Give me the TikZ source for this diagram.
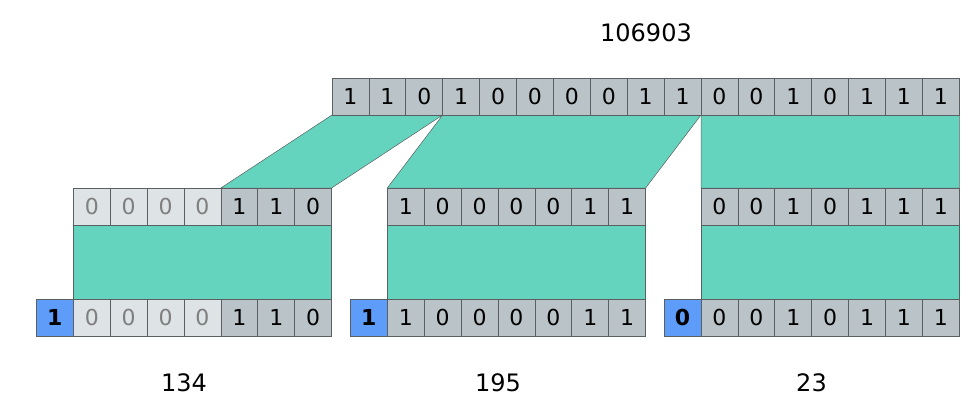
\documentclass[tikz,border=0pt]{standalone}
\usepackage{fontspec}
\setmainfont{DejaVu Sans}
\usetikzlibrary{backgrounds}
\definecolor{cellgray}{HTML}{BAC4C8}
\definecolor{celllight}{HTML}{DEE3E5}
\definecolor{lighttext}{HTML}{7F7F7F}
\definecolor{signblue}{HTML}{5D9CF9}
\definecolor{tealband}{HTML}{65D4BE}
\definecolor{edgegray}{HTML}{5A5F61}
\begin{document}
\begin{tikzpicture}[x=1pt,y=-1pt,
  cell/.style={draw=edgegray, fill=cellgray, minimum width=36.9pt, minimum height=37pt,
    inner sep=0pt, outer sep=0pt, line width=0.7pt, font=\fontsize{22}{22}\selectfont},
  padcell/.style={cell, fill=celllight, text=lighttext},
  signcell/.style={cell, fill=signblue, font=\fontsize{22}{22}\selectfont\bfseries},
  band/.style={fill=tealband, draw=edgegray, line width=0.5pt},
  numlabel/.style={font=\fontsize{24}{24}\selectfont}]
\useasboundingbox (0,0) rectangle (976,412);

% top row
\foreach \b [count=\i from 0] in {1,1,0,1,0,0,0,0,1,1,0,0,1,0,1,1,1}
  \node[cell] (t\i) at ({332+36.9*\i+18.45},96.5) {\b};

% left group
\foreach \b [count=\i from 0] in {0,0,0,0,1,1,0} {
  \ifnum\i<4
    \node[padcell] (la\i) at ({73.3+36.9*\i+18.45},206.5) {\b};
    \node[padcell] (lb\i) at ({73.3+36.9*\i+18.45},317.5) {\b};
  \else
    \node[cell] (la\i) at ({73.3+36.9*\i+18.45},206.5) {\b};
    \node[cell] (lb\i) at ({73.3+36.9*\i+18.45},317.5) {\b};
  \fi
}
\node[signcell] (ls) at ({73.3-18.45},317.5) {1};

% middle group
\foreach \b [count=\i from 0] in {1,0,0,0,0,1,1} {
  \node[cell] (ma\i) at ({387.3+36.9*\i+18.45},206.5) {\b};
  \node[cell] (mb\i) at ({387.3+36.9*\i+18.45},317.5) {\b};
}
\node[signcell] (ms) at ({387.3-18.45},317.5) {1};

% right group
\foreach \b [count=\i from 0] in {0,0,1,0,1,1,1} {
  \node[cell] (ra\i) at ({701+36.9*\i+18.45},206.5) {\b};
  \node[cell] (rb\i) at ({701+36.9*\i+18.45},317.5) {\b};
}
\node[signcell] (rs) at ({701-18.45},317.5) {0};

% bands
\begin{scope}[on background layer]
  \draw[band] (t0.south west) -- (t2.south east) -- (la6.north east) -- (la4.north west) -- cycle;
  \draw[band] (t3.south west) -- (t9.south east) -- (ma6.north east) -- (ma0.north west) -- cycle;
  \draw[band] (t10.south west) -- (t16.south east) -- (ra6.north east) -- (ra0.north west) -- cycle;
  \draw[band] (la0.south west) -- (la6.south east) -- (lb6.north east) -- (lb0.north west) -- cycle;
  \draw[band] (ma0.south west) -- (ma6.south east) -- (mb6.north east) -- (mb0.north west) -- cycle;
  \draw[band] (ra0.south west) -- (ra6.south east) -- (rb6.north east) -- (rb0.north west) -- cycle;
\end{scope}

% labels
\node[numlabel] (n106903) at (646,32.5) {106903};
\node[numlabel] (n134) at (184,382.5) {134};
\node[numlabel] (n195) at (498,382.5) {195};
\node[numlabel] (n23) at (811.5,382.5) {23};
\end{tikzpicture}
\end{document}
